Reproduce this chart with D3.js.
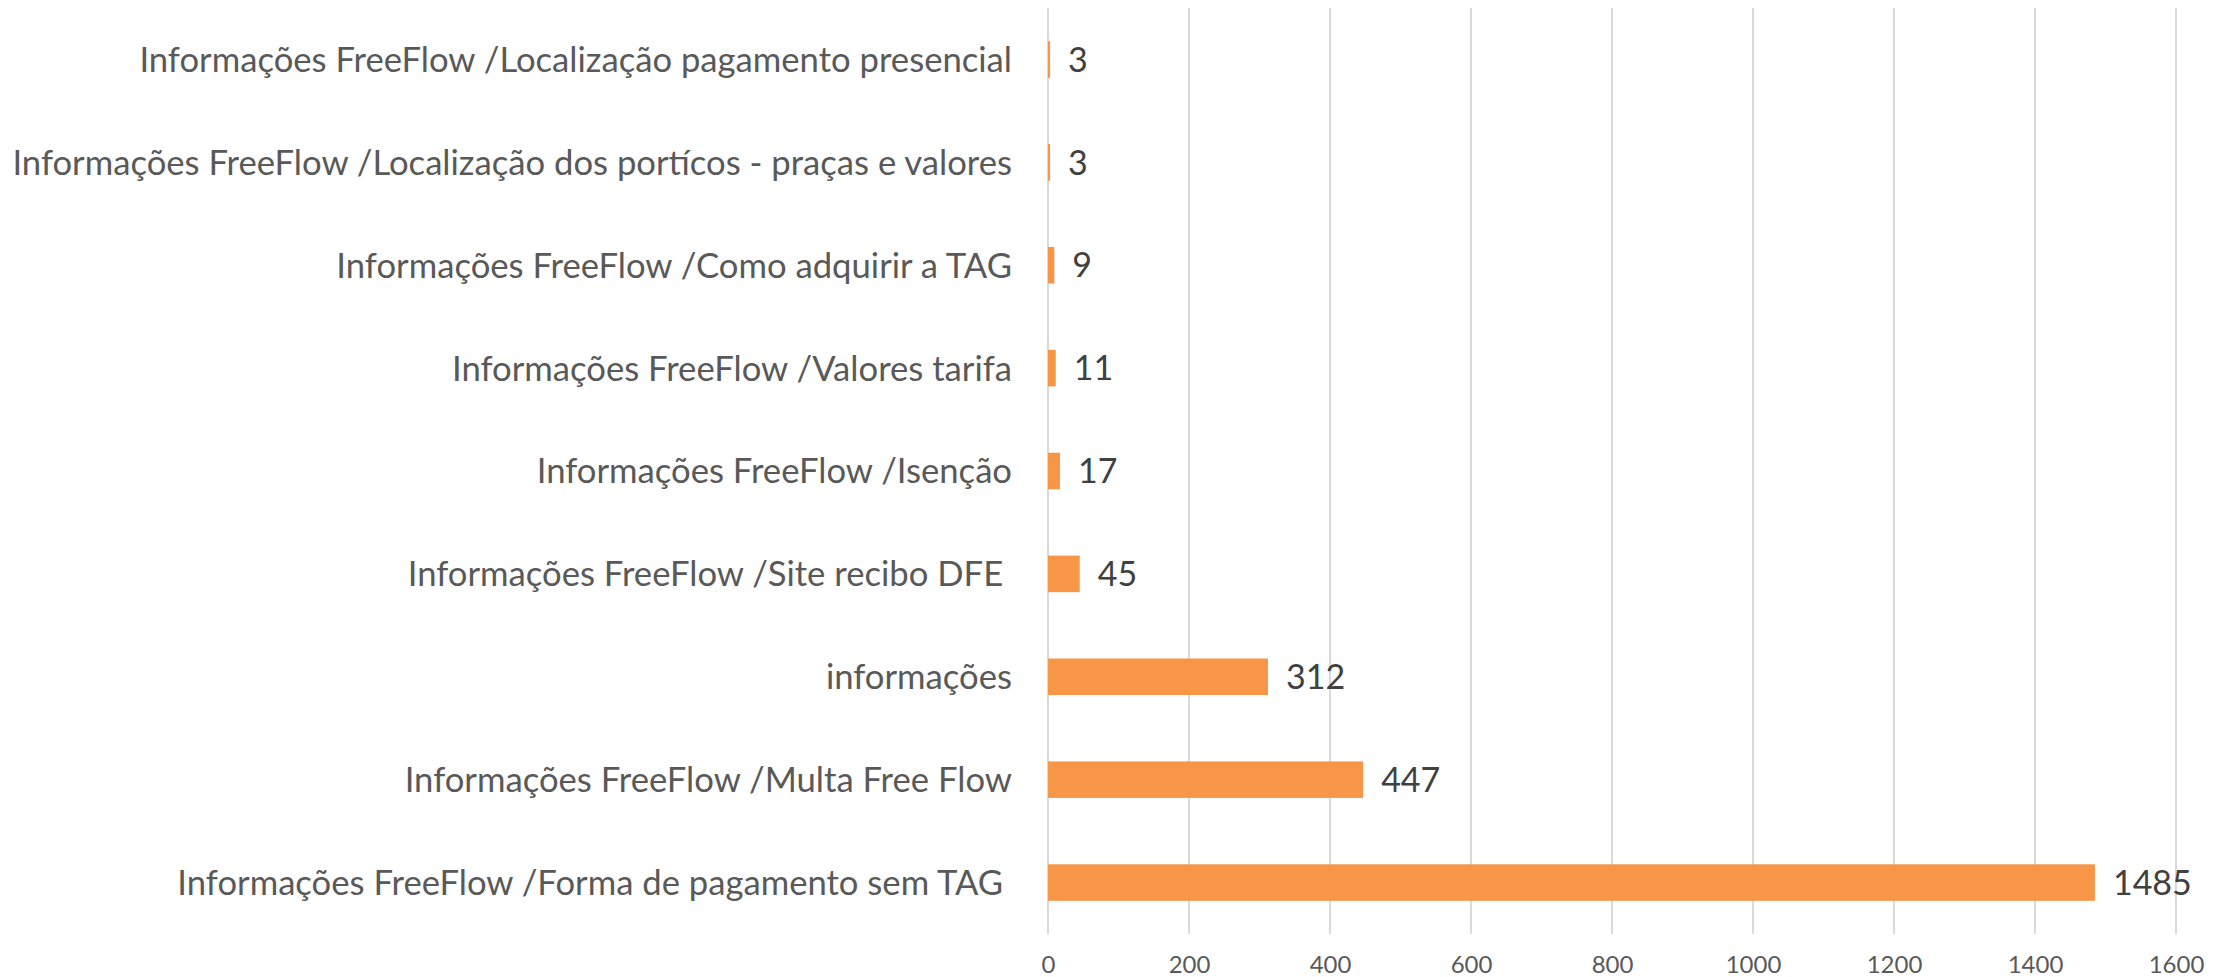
<!DOCTYPE html>
<html>
<head>
<meta charset="utf-8">
<script src="https://cdn.jsdelivr.net/npm/d3@7"></script>
<style>
  body { margin: 0; background: #fff; }
  text { font-family: Lato, "Open Sans", sans-serif; }
</style>
</head>
<body>
<div id="container"></div>
<script>
/* DATA */
const categories = [
  "Informações FreeFlow /Localização pagamento presencial",
  "Informações FreeFlow /Localização dos portícos - praças e valores",
  "Informações FreeFlow /Como adquirir a TAG",
  "Informações FreeFlow /Valores tarifa",
  "Informações FreeFlow /Isenção",
  "Informações FreeFlow /Site recibo DFE ",
  "informações",
  "Informações FreeFlow /Multa Free Flow",
  "Informações FreeFlow /Forma de pagamento sem TAG "
];
const values = [3, 3, 9, 11, 17, 45, 312, 447, 1485];
const xTicks = [0, 200, 400, 600, 800, 1000, 1200, 1400, 1600];

/* CONSTANTS */
const width = 2233, height = 977,
  margin = {top: 8, bottom: 43, left: 1048, right: 57};

const data = categories.map((c, i) => ({cat: c, val: values[i]}));

// SCALES
const xScale = d3.scaleLinear()
  .domain([0, 1600])
  .range([margin.left, width - margin.right]);

const yScale = d3.scaleBand()
  .domain(categories)
  .range([margin.top, height - margin.bottom])
  .paddingInner(0.645)
  .paddingOuter(0.3225);

// SVG
const svg = d3.select("#container").append("svg")
  .attr("width", width)
  .attr("height", height);

// gridlines
svg.append("g")
  .selectAll("line")
  .data(xTicks)
  .join("line")
  .attr("x1", d => xScale(d))
  .attr("x2", d => xScale(d))
  .attr("y1", margin.top)
  .attr("y2", height - margin.bottom)
  .attr("stroke", "#d9d9d9")
  .attr("stroke-width", 2);

// x axis labels
const xAxis = d3.axisBottom(xScale).tickValues(xTicks).tickFormat(d3.format("d")).tickSize(0).tickPadding(22);
const gx = svg.append("g")
  .attr("transform", `translate(0,${height - margin.bottom})`)
  .call(xAxis);
gx.select(".domain").remove();
gx.selectAll("text")
  .attr("fill", "#595959")
  .style("font-size", "24px")
  .style("font-family", "Lato, 'Open Sans', sans-serif");

// bars
svg.append("g")
  .selectAll("rect")
  .data(data)
  .join("rect")
  .attr("x", xScale(0))
  .attr("y", d => yScale(d.cat))
  .attr("width", d => xScale(d.val) - xScale(0))
  .attr("height", yScale.bandwidth())
  .attr("fill", "#F79646");

// value labels
svg.append("g")
  .selectAll("text")
  .data(data)
  .join("text")
  .attr("x", d => xScale(d.val) + 18)
  .attr("y", d => yScale(d.cat) + yScale.bandwidth() / 2)
  .attr("dy", "0.36em")
  .attr("fill", "#404040")
  .style("font-size", "34px")
  .text(d => d.val);

// category labels
const catLabels = svg.append("g")
  .selectAll("text")
  .data(data)
  .join("text")
  .attr("x", 1012)
  .attr("y", d => yScale(d.cat) + yScale.bandwidth() / 2)
  .attr("dy", "0.36em")
  .attr("text-anchor", "end")
  .attr("fill", "#595959")
  .style("font-size", "31px")
  .style("white-space", "pre")
  .text(d => d.cat);

// longest label should span x=12..1012
const longest = d3.max(catLabels.nodes(), n => n.getComputedTextLength());
catLabels.style("font-size", (31 * 1000 / longest) + "px");
</script>
</body>
</html>
